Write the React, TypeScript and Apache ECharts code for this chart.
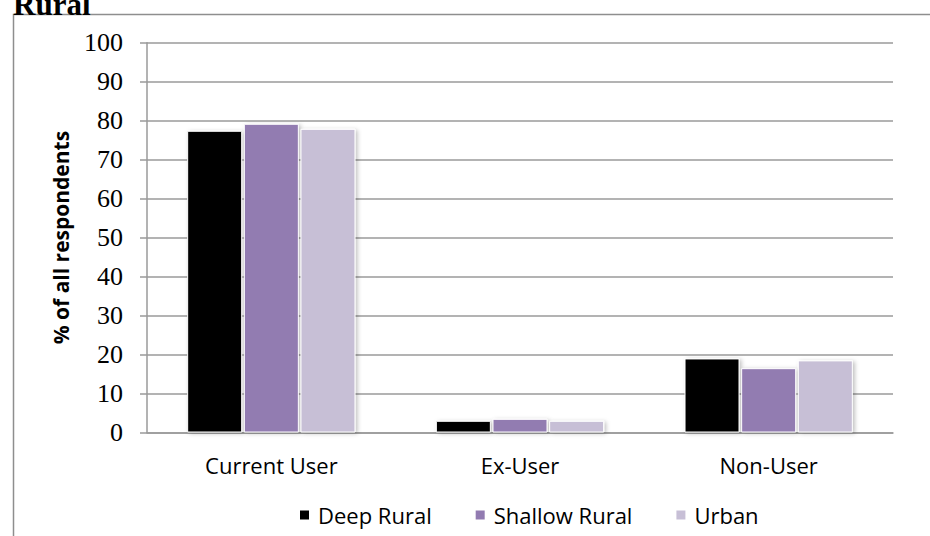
import React, { useEffect, useRef } from "react";
import * as echarts from "echarts";

const categories = ["Current User", "Ex-User", "Non-User"];
const deepRural = [77.4, 3.0, 19.0];
const shallowRural = [79.2, 3.5, 16.5];
const urban = [77.9, 3.0, 18.5];
const seriesNames = ["Deep Rural", "Shallow Rural", "Urban"];
const seriesColors = ["#000000", "#927bb1", "#c7bfd6"];
const title = "Rural";
const yAxisName = "% of all respondents";

export default function App() {
  const ref = useRef<HTMLDivElement>(null);
  useEffect(() => {
    if (!ref.current) return;
    const chart = echarts.init(ref.current, undefined, { renderer: "svg" });
    const values = [deepRural, shallowRural, urban];
    const sansFont = "'Open Sans', 'Liberation Sans', sans-serif";
    chart.setOption({
      animation: false,
      backgroundColor: "#ffffff",
      graphic: [
        {
          type: "rect",
          shape: { x: 13.5, y: 14.5, width: 940, height: 540 },
          style: { fill: "none", stroke: "#8e8e8e", lineWidth: 1.5 },
          silent: true,
        },
        {
          type: "text",
          x: 13,
          y: 20,
          style: {
            text: title,
            font: "bold 31px 'Liberation Serif', 'Times New Roman', serif",
            fill: "#000",
            verticalAlign: "bottom",
          },
        },
      ],
      grid: { left: 147, top: 42.7, right: 37, bottom: 103.5 },
      legend: {
        left: 293,
        top: 499,
        itemWidth: 11,
        itemHeight: 11,
        itemGap: 42,
        icon: "rect",
        textStyle: { fontFamily: sansFont, fontSize: 22, color: "#000", padding: [0, 0, 0, 3] },
        data: seriesNames,
      },
      xAxis: {
        type: "category",
        data: categories,
        axisLine: { lineStyle: { color: "#9a9a9a", width: 1.5 } },
        axisTick: { show: false },
        axisLabel: { fontFamily: sansFont, fontSize: 22, color: "#000", margin: 21 },
      },
      yAxis: {
        type: "value",
        min: 0,
        max: 100,
        interval: 10,
        name: yAxisName,
        nameLocation: "middle",
        nameGap: 76,
        nameRotate: 90,
        nameTextStyle: { fontFamily: sansFont, fontSize: 21, fontWeight: "bold", color: "#000" },
        axisLine: { show: true, lineStyle: { color: "#9a9a9a", width: 1.5 } },
        axisTick: { show: true, length: 7, lineStyle: { color: "#9a9a9a", width: 1.5 } },
        axisLabel: {
          fontFamily: "'Liberation Serif', 'Times New Roman', serif",
          fontSize: 26,
          color: "#000",
          margin: 24,
        },
        splitLine: { lineStyle: { color: "#9a9a9a", width: 1.5 } },
      },
      series: seriesNames.map((name, i) => ({
        name,
        type: "bar",
        data: values[i],
        barWidth: 55,
        barGap: "3%",
        itemStyle: {
          color: seriesColors[i],
          borderColor: "#ffffff",
          borderWidth: 1,
          shadowBlur: 4,
          shadowColor: "rgba(0,0,0,0.25)",
          shadowOffsetX: 2,
          shadowOffsetY: 1,
        },
      })),
    });
    return () => chart.dispose();
  }, []);
  return (
    <div
      ref={ref}
      style={{ position: "fixed", left: 0, top: 0, width: 930, height: 536 }}
    />
  );
}
